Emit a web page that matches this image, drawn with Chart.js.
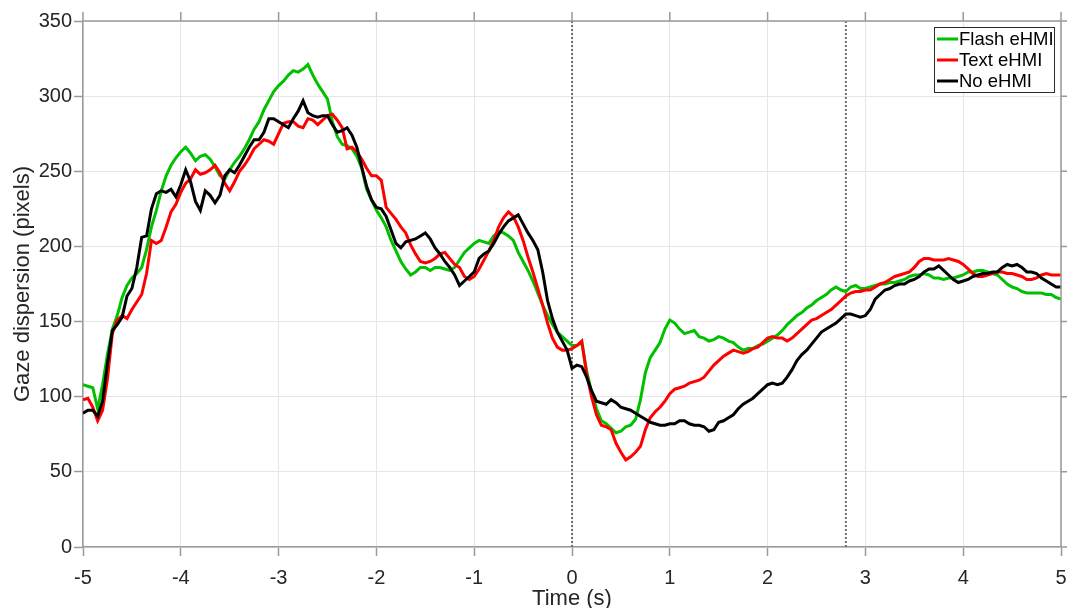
<!DOCTYPE html>
<html>
<head>
<meta charset="utf-8">
<script src="https://cdn.jsdelivr.net/npm/chart.js@4.4.1/dist/chart.umd.min.js"></script>
<style>
  html, body { margin: 0; padding: 0; background: #fff; }
  #wrap { width: 1067px; height: 608px; }
</style>
</head>
<body>
<div id="wrap"><canvas id="gaze" width="1067" height="608"></canvas></div>
<script>
// ── Data: gaze dispersion sampled every 0.05 s from -5 s to 5 s ──
const T_START = -5;
const T_STEP = 0.05;

const flashEhmi = [
  108,107,106,92,108,128,145,154,166,174,
  179,182,186,198,213,224,237,247,254,259,
  263,266,262,257,260,261,258,253,247,245,
  251,256,260,265,271,278,283,291,297,303,
  307,310,314,317,316,318,321,314,308,303,
  298,283,273,268,267,265,260,252,238,231,
  224,219,213,204,197,190,185,181,183,186,
  186,184,186,186,185,184,186,191,196,199,
  202,204,203,202,207,210,209,207,204,196,
  190,184,177,169,161,154,148,143,140,137,
  134,134,136,117,103,92,84,82,79,76,
  77,80,81,85,98,116,126,131,136,145,
  151,149,145,142,143,144,140,139,137,138,
  140,139,137,136,133,131,132,132,134,135,
  137,139,141,144,148,151,154,156,159,161,
  164,166,168,171,173,171,170,173,174,172,
  172,173,174,175,175,176,176,177,178,180,
  181,181,182,181,179,179,178,179,179,180,
  181,183,183,184,184,183,182,181,178,175,
  173,172,170,169,169,169,169,168,168,166,
  165
];

const textEhmi = [
  98,99,93,84,91,112,142,151,154,152,
  158,163,168,182,204,202,204,213,223,228,
  236,242,245,251,248,249,251,254,249,242,
  237,243,250,254,259,265,268,271,270,268,
  275,282,283,283,280,279,285,284,281,284,
  287,288,284,279,265,266,263,258,252,247,
  247,244,226,222,218,213,209,201,195,190,
  189,190,192,195,196,192,188,186,180,178,
  180,185,191,197,204,213,219,223,220,213,
  204,193,183,172,161,149,139,133,131,131,
  132,134,137,115,100,88,81,80,78,69,
  63,58,60,63,67,78,86,90,93,97,
  102,105,106,107,109,110,111,113,117,121,
  124,127,129,131,130,129,130,132,133,136,
  139,140,139,139,137,139,142,145,148,151,
  152,154,156,158,161,164,167,169,170,170,
  171,171,173,175,176,178,180,181,182,183,
  186,190,192,192,191,191,191,192,191,190,
  188,185,182,180,180,181,182,183,183,182,
  182,181,180,178,178,179,181,182,181,181,
  181
];

const noEhmi = [
  89,91,91,87,97,122,144,148,153,167,
  172,186,206,207,225,235,237,236,238,233,
  241,251,243,230,224,237,234,229,234,247,
  251,249,254,260,266,271,271,276,285,285,
  283,281,279,285,290,297,289,287,286,287,
  287,281,276,277,279,274,266,253,240,231,
  226,225,220,211,202,199,203,204,205,207,
  209,205,199,195,190,186,181,174,177,180,
  183,192,195,197,202,208,213,217,219,221,
  215,209,204,198,183,164,152,143,137,131,
  119,121,120,113,104,97,96,95,98,96,
  93,92,91,89,87,85,83,82,81,81,
  82,82,84,84,82,81,81,80,77,78,
  83,84,86,88,92,95,97,99,102,105,
  108,109,108,109,113,118,124,128,131,135,
  139,143,145,147,149,152,155,155,154,153,
  154,158,165,168,171,172,174,175,175,177,
  178,180,183,185,185,187,184,181,178,176,
  177,178,180,181,182,182,183,183,186,188,
  187,188,186,183,183,182,179,177,175,173,
  173
];

const seriesLabels = ['Flash eHMI', 'Text eHMI', 'No eHMI'];
const seriesColors = ['#00c000', '#ff0000', '#000000'];
const eventTimes = [0, 2.8];          // dotted markers
const xRange = [-5, 5];
const yRange = [0, 350];

const FONT = "'Liberation Sans', Arial, Helvetica, sans-serif";
const TEXT = '#262626';
const AXIS = '#9a9a9a';

function toPoints(values) {
  return values.map((v, i) => ({ x: +(T_START + i * T_STEP).toFixed(2), y: v }));
}

const lineSets = [flashEhmi, textEhmi, noEhmi].map((vals, i) => ({
  label: seriesLabels[i],
  data: toPoints(vals),
  borderColor: seriesColors[i],
  borderWidth: 3,
  pointRadius: 0,
  tension: 0,
  order: 3 - i,
}));

const eventSets = eventTimes.map(t => ({
  label: 'event',
  isEvent: true,
  data: [{ x: t, y: yRange[0] }, { x: t, y: yRange[1] }],
  borderColor: '#6e6e6e',
  borderWidth: 2,
  borderDash: [2, 2],
  pointRadius: 0,
  order: 5,
}));

// box frame on top/right with outward ticks (matlab look)
const frame = {
  id: 'frame',
  afterDatasetsDraw(chart) {
    const { ctx, chartArea: a, scales: { x, y } } = chart;
    ctx.save();
    ctx.strokeStyle = AXIS;
    ctx.lineWidth = 1.5;
    ctx.beginPath();
    ctx.moveTo(a.left, a.top); ctx.lineTo(a.right, a.top); ctx.lineTo(a.right, a.bottom);
    x.ticks.forEach(t => {
      const px = x.getPixelForValue(t.value);
      ctx.moveTo(px, a.top); ctx.lineTo(px, a.top - 9);
    });
    y.ticks.forEach(t => {
      const py = y.getPixelForValue(t.value);
      ctx.moveTo(a.right, py); ctx.lineTo(a.right + 6, py);
    });
    ctx.stroke();
    ctx.restore();
  }
};

// legend box inside the plot, upper right
const boxLegend = {
  id: 'boxLegend',
  afterDraw(chart) {
    const { ctx, chartArea: a } = chart;
    const items = chart.data.datasets.filter(d => !d.isEvent);
    const w = 120, rowH = 21, h = 65;
    const left = a.right - 7 - w, top = a.top + 6;
    ctx.save();
    ctx.fillStyle = '#fff';
    ctx.fillRect(left, top, w, h);
    ctx.strokeStyle = '#2b2b2b';
    ctx.lineWidth = 1;
    ctx.strokeRect(left + 0.5, top + 0.5, w, h);
    ctx.font = '18.5px ' + FONT;
    ctx.textBaseline = 'middle';
    items.forEach((d, i) => {
      const cy = top + 12 + i * rowH;
      ctx.strokeStyle = d.borderColor;
      ctx.lineWidth = 3;
      ctx.beginPath();
      ctx.moveTo(left + 3, cy); ctx.lineTo(left + 24, cy);
      ctx.stroke();
      ctx.fillStyle = '#000';
      ctx.fillText(d.label, left + 25, cy + 1);
    });
    ctx.restore();
  }
};

new Chart(document.getElementById('gaze'), {
  type: 'line',
  data: { datasets: [...eventSets, ...lineSets] },
  options: {
    responsive: false,
    animation: false,
    layout: { padding: { top: 21, right: 6, left: 0, bottom: 0 } },
    plugins: { legend: { display: false }, tooltip: { enabled: false } },
    scales: {
      x: {
        type: 'linear',
        min: xRange[0], max: xRange[1],
        afterFit(s) { s.height = 61; s.paddingLeft = 0; s.paddingRight = 0; },
        ticks: { stepSize: 1, color: TEXT, font: { family: FONT, size: 20 }, padding: 10, maxRotation: 0 },
        grid: { color: '#e6e6e6', lineWidth: 1, tickLength: 9, tickColor: AXIS, tickWidth: 1.5 },
        border: { color: AXIS, width: 1.5 },
        title: { display: true, text: 'Time (s)', color: TEXT, font: { family: FONT, size: 22 }, padding: { top: 0, bottom: -4 } },
      },
      y: {
        min: yRange[0], max: yRange[1],
        afterFit(s) { s.width = 83; s.paddingTop = 0; s.paddingBottom = 0; },
        ticks: { stepSize: 50, color: TEXT, font: { family: FONT, size: 20 }, padding: 2 },
        grid: { color: '#e6e6e6', lineWidth: 1, tickLength: 9, tickColor: AXIS, tickWidth: 1.5 },
        border: { color: AXIS, width: 1.5 },
        title: { display: true, text: 'Gaze dispersion (pixels)', color: TEXT, font: { family: FONT, size: 22 }, padding: { top: 10, bottom: 4 } },
      }
    }
  },
  plugins: [frame, boxLegend]
});
</script>
</body>
</html>
